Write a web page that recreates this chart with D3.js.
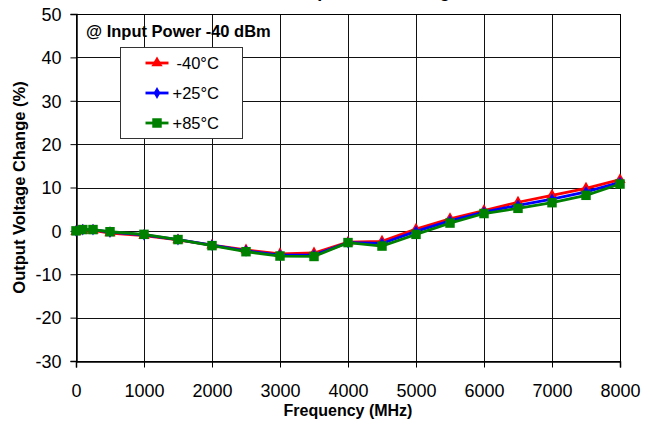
<!DOCTYPE html>
<html>
<head>
<meta charset="utf-8">
<script src="https://cdn.jsdelivr.net/npm/d3@7"></script>
<style>
  body { margin: 0; background: #fff; }
  svg { display: block; }
  text { font-family: "Liberation Sans", Arial, sans-serif; }
</style>
</head>
<body>
<div id="plot"></div>
<script>
// data
const freq = [0, 100, 250, 500, 1000, 1500, 2000, 2500, 3000, 3500, 4000, 4500, 5000, 5500, 6000, 6500, 7000, 7500, 8000];
const tMinus40 = [-0.2, 0.1, 0.1, -0.5, -1.1, -2.1, -3.3, -4.4, -5.3, -5.1, -2.6, -2.4, 0.4, 2.8, 4.7, 6.6, 8.2, 9.8, 11.8];
const tPlus25 = [0.0, 0.3, 0.3, -0.3, -0.9, -2.0, -3.3, -4.6, -5.6, -5.6, -2.7, -2.9, -0.1, 2.3, 4.3, 5.9, 7.3, 9.0, 11.2];
const tPlus85 = [0.0, 0.3, 0.3, -0.2, -0.8, -2.0, -3.4, -4.8, -5.8, -5.9, -2.7, -3.5, -0.8, 1.8, 4.0, 5.2, 6.5, 8.2, 10.8];
const seriesNames = ["-40°C", "+25°C", "+85°C"];
const xTicks = [0, 1000, 2000, 3000, 4000, 5000, 6000, 7000, 8000];
const yTicks = [-30, -20, -10, 0, 10, 20, 30, 40, 50];

const W = 653, H = 425;
const margin = {top: 14, right: 33, bottom: 64, left: 76};
const width = W - margin.left - margin.right,
  height = H - margin.top - margin.bottom;

const svg = d3.select("#plot").append("svg")
  .attr("width", W).attr("height", H);
const g = svg.append("g")
  .attr("transform", `translate(${margin.left},${margin.top})`);

const x = d3.scaleLinear().domain([0, 8000]).range([0, width]);
const y = d3.scaleLinear().domain([-30, 50]).range([height, 0]);

// grid
g.selectAll(".vgrid").data(xTicks).join("line")
  .attr("x1", d => Math.round(x(d)) + 0.5).attr("x2", d => Math.round(x(d)) + 0.5)
  .attr("y1", 0).attr("y2", height)
  .attr("stroke", "#111").attr("stroke-width", 1);
g.selectAll(".hgrid").data(yTicks).join("line")
  .attr("y1", d => Math.round(y(d)) + 0.5).attr("y2", d => Math.round(y(d)) + 0.5)
  .attr("x1", 0).attr("x2", width)
  .attr("stroke", "#111").attr("stroke-width", 1);

// axes (plain hyphen for negatives, like the original)
const fmt = d => String(d);
const xAxis = g.append("g")
  .attr("transform", `translate(0,${Math.round(height) + 0.5})`)
  .call(d3.axisBottom(x).tickValues(xTicks).tickSize(6).tickPadding(17).tickFormat(fmt));
const yAxis = g.append("g")
  .attr("transform", "translate(0.5,0)")
  .call(d3.axisLeft(y).tickValues(yTicks).tickSize(6).tickPadding(9).tickFormat(fmt));
[xAxis, yAxis].forEach(a => {
  a.select(".domain").attr("stroke", "#000").attr("stroke-width", 1.5);
  a.selectAll(".tick line").attr("stroke", "#000");
  a.selectAll("text").style("font-size", "18px").attr("fill", "#000")
    .style("font-family", '"Liberation Sans", Arial, sans-serif');
});
yAxis.selectAll("text").attr("dy", "0.35em");
// right and top frame
g.append("rect").attr("x", 0.5).attr("y", 0.5).attr("width", width).attr("height", Math.round(height))
  .attr("fill", "none").attr("stroke", "#000").attr("stroke-width", 1);

// series
const series = [
  {name: seriesNames[0], vals: tMinus40, color: "#ff0000", sym: d3.symbolTriangle, size: 55},
  {name: seriesNames[1], vals: tPlus25, color: "#0000ff", sym: d3.symbolDiamond, size: 40},
  {name: seriesNames[2], vals: tPlus85, color: "#008000", sym: d3.symbolSquare, size: 90}
];
const line = d3.line().x(d => x(d[0])).y(d => y(d[1]));

series.forEach(s => {
  const pts = freq.map((f, i) => [f, s.vals[i]]);
  g.append("path").datum(pts)
    .attr("d", line).attr("fill", "none")
    .attr("stroke", s.color).attr("stroke-width", 2.8);
  g.selectAll(null).data(pts).join("path")
    .attr("transform", d => `translate(${x(d[0])},${y(d[1])})`)
    .attr("d", d3.symbol().type(s.sym).size(s.size))
    .attr("fill", s.color);
});

// annotation
g.append("text").attr("x", 10).attr("y", 22.5)
  .text("@ Input Power -40 dBm")
  .style("font-size", "16.5px").style("font-weight", "bold");

// legend
const leg = g.append("g").attr("transform", "translate(44.5,33.5)");
leg.append("rect").attr("width", 122).attr("height", 91)
  .attr("fill", "#fff").attr("stroke", "#333").attr("stroke-width", 1);
series.forEach((s, i) => {
  const ly = 15.5 + i * 30;
  leg.append("line").attr("x1", 25).attr("x2", 48).attr("y1", ly).attr("y2", ly)
    .attr("stroke", s.color).attr("stroke-width", 2.8);
  leg.append("path").attr("transform", `translate(36.5,${ly})`)
    .attr("d", d3.symbol().type(s.sym).size(s.size)).attr("fill", s.color);
  leg.append("text").attr("x", i === 0 ? 56 : 52).attr("y", ly).attr("dy", "0.36em")
    .text(s.name).style("font-size", "16.5px");
});

// titles (main title is clipped at the top edge in the original)
svg.append("text").attr("x", margin.left + width / 2).attr("y", -3)
  .attr("text-anchor", "middle").text("Over Temperature Change")
  .style("font-size", "18px").style("font-weight", "bold");
svg.append("text").attr("x", margin.left + width / 2).attr("y", 416)
  .attr("text-anchor", "middle").text("Frequency (MHz)")
  .style("font-size", "16px").style("font-weight", "bold");
svg.append("text")
  .attr("transform", `translate(25,${margin.top + height / 2}) rotate(-90)`)
  .attr("text-anchor", "middle").text("Output Voltage Change (%)")
  .style("font-size", "16.5px").style("font-weight", "bold");
</script>
</body>
</html>
